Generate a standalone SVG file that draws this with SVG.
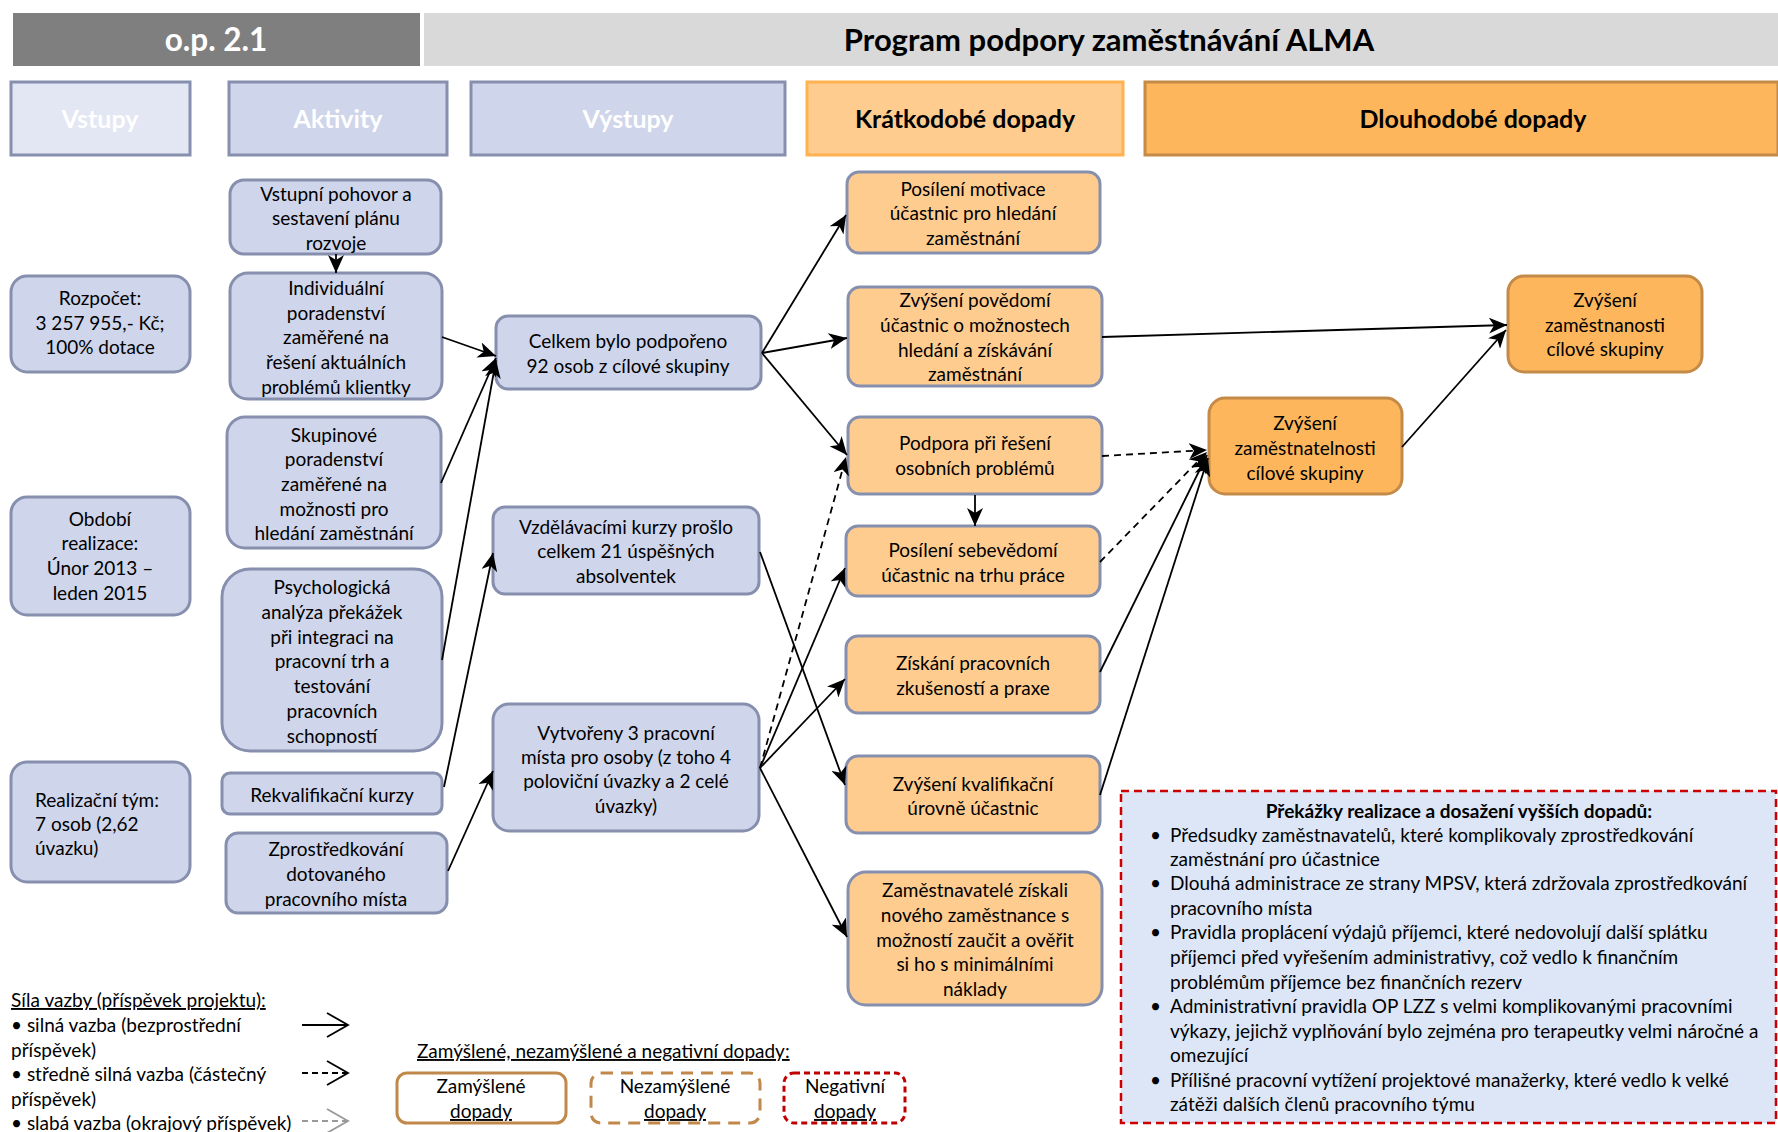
<svg xmlns="http://www.w3.org/2000/svg" width="1778" height="1132" viewBox="0 0 1778 1132">
<style>
text{font-family:Lato,"Liberation Sans",sans-serif;font-size:19px;fill:#000}
.c{text-anchor:middle}
.hb{font-weight:bold;font-size:25px;text-anchor:middle}
.wh{fill:#fff}
.b rect{fill:#CFD5EA;stroke:#8690AE;stroke-width:3}
.s rect{fill:#FFCC8F;stroke:#8690AE;stroke-width:3}
.l rect{fill:#FDB65B;stroke:#C48A48;stroke-width:3}
.cn line{stroke:#000;stroke-width:1.8;marker-end:url(#ah)}
.cn line.d{stroke-dasharray:7 5}
.u{text-decoration:underline}
</style>
<defs>
<marker id="ah" markerUnits="userSpaceOnUse" markerWidth="20" markerHeight="16" refX="18" refY="8" orient="auto"><path d="M0,0 L18,8 L0,16 L5,8 Z" fill="#000"/></marker>
</defs>
<rect width="1778" height="1132" fill="#fff"/>
<g id="header">
<rect x="13" y="13" width="407" height="53" fill="#7F7F7F"/>
<text x="216" y="51" class="hb wh" style="font-size:31.5px">o.p. 2.1</text>
<rect x="424" y="13" width="1354" height="53" fill="#D9D9D9"/>
<text x="1109" y="51" class="hb" style="font-size:31px">Program podpory zaměstnávání ALMA</text>
</g>
<g id="columns">
<rect x="11" y="82" width="179" height="73" fill="#E3E6F3" stroke="#8690AE" stroke-width="3"/>
<text x="100" y="128" class="hb wh">Vstupy</text>
<rect x="229" y="82" width="218" height="73" fill="#CFD5EA" stroke="#8690AE" stroke-width="3"/>
<text x="338" y="128" class="hb wh">Aktivity</text>
<rect x="471" y="82" width="314" height="73" fill="#CFD5EA" stroke="#8690AE" stroke-width="3"/>
<text x="628" y="128" class="hb wh">Výstupy</text>
<rect x="807" y="82" width="316" height="73" fill="#FFCC8F" stroke="#FFB24F" stroke-width="3"/>
<text x="965" y="128" class="hb">Krátkodobé dopady</text>
<rect x="1145" y="82" width="633" height="73" fill="#FDB65B" stroke="#C48A48" stroke-width="3"/>
<text x="1473" y="128" class="hb">Dlouhodobé dopady</text>
</g>
<g id="i1" class="b"><rect x="11" y="276" width="179" height="96" rx="16"/><text class="c"><tspan x="100" y="305">Rozpočet:</tspan><tspan x="100" y="330">3 257 955,- Kč;</tspan><tspan x="100" y="354">100% dotace</tspan></text></g>
<g id="i2" class="b"><rect x="11" y="497" width="179" height="118" rx="16"/><text class="c"><tspan x="100" y="526">Období</tspan><tspan x="100" y="550">realizace:</tspan><tspan x="100" y="575">Únor 2013 –</tspan><tspan x="100" y="600">leden 2015</tspan></text></g>
<g id="i3" class="b"><rect x="11" y="762" width="179" height="120" rx="16"/><text><tspan x="35" y="807">Realizační tým:</tspan><tspan x="35" y="831">7 osob (2,62</tspan><tspan x="35" y="855">úvazku)</tspan></text></g>
<g id="a1" class="b"><rect x="230" y="180" width="211" height="74" rx="14"/><text class="c"><tspan x="336" y="201">Vstupní pohovor a</tspan><tspan x="336" y="225">sestavení plánu</tspan><tspan x="336" y="250">rozvoje</tspan></text></g>
<g id="a2" class="b"><rect x="230" y="273" width="212" height="126" rx="18"/><text class="c"><tspan x="336" y="295">Individuální</tspan><tspan x="336" y="320">poradenství</tspan><tspan x="336" y="344">zaměřené na</tspan><tspan x="336" y="369">řešení aktuálních</tspan><tspan x="336" y="394">problémů klientky</tspan></text></g>
<g id="a3" class="b"><rect x="227" y="417" width="214" height="131" rx="18"/><text class="c"><tspan x="334" y="442">Skupinové</tspan><tspan x="334" y="466">poradenství</tspan><tspan x="334" y="491">zaměřené na</tspan><tspan x="334" y="516">možnosti pro</tspan><tspan x="334" y="540">hledání zaměstnání</tspan></text></g>
<g id="a4" class="b"><rect x="222" y="569" width="220" height="182" rx="28"/><text class="c"><tspan x="332" y="594">Psychologická</tspan><tspan x="332" y="619">analýza překážek</tspan><tspan x="332" y="644">při integraci na</tspan><tspan x="332" y="668">pracovní trh a</tspan><tspan x="332" y="693">testování</tspan><tspan x="332" y="718">pracovních</tspan><tspan x="332" y="743">schopností</tspan></text></g>
<g id="a5" class="b"><rect x="222" y="773" width="220" height="41" rx="8"/><text class="c" x="332" y="802">Rekvalifikační kurzy</text></g>
<g id="a6" class="b"><rect x="226" y="833" width="221" height="80" rx="12"/><text class="c"><tspan x="336" y="856">Zprostředkování</tspan><tspan x="336" y="881">dotovaného</tspan><tspan x="336" y="906">pracovního místa</tspan></text></g>
<g id="o1" class="b"><rect x="496" y="316" width="265" height="73" rx="12"/><text class="c"><tspan x="628" y="348">Celkem bylo podpořeno</tspan><tspan x="628" y="373">92 osob z cílové skupiny</tspan></text></g>
<g id="o2" class="b"><rect x="493" y="507" width="266" height="87" rx="12"/><text class="c"><tspan x="626" y="534">Vzdělávacími kurzy prošlo</tspan><tspan x="626" y="558">celkem 21 úspěšných</tspan><tspan x="626" y="583">absolventek</tspan></text></g>
<g id="o3" class="b"><rect x="493" y="704" width="266" height="127" rx="16"/><text class="c"><tspan x="626" y="740">Vytvořeny 3 pracovní</tspan><tspan x="626" y="764">místa pro osoby (z toho 4</tspan><tspan x="626" y="788">poloviční úvazky a 2 celé</tspan><tspan x="626" y="813">úvazky)</tspan></text></g>
<g id="s1" class="s"><rect x="847" y="172" width="253" height="81" rx="12"/><text class="c"><tspan x="973" y="196">Posílení motivace</tspan><tspan x="973" y="220">účastnic pro hledání</tspan><tspan x="973" y="245">zaměstnání</tspan></text></g>
<g id="s2" class="s"><rect x="848" y="287" width="254" height="99" rx="12"/><text class="c"><tspan x="975" y="307">Zvýšení povědomí</tspan><tspan x="975" y="332">účastnic o možnostech</tspan><tspan x="975" y="357">hledání a získávání</tspan><tspan x="975" y="381">zaměstnání</tspan></text></g>
<g id="s3" class="s"><rect x="848" y="417" width="254" height="77" rx="12"/><text class="c"><tspan x="975" y="450">Podpora při řešení</tspan><tspan x="975" y="475">osobních problémů</tspan></text></g>
<g id="s4" class="s"><rect x="846" y="526" width="254" height="70" rx="12"/><text class="c"><tspan x="973" y="557">Posílení sebevědomí</tspan><tspan x="973" y="582">účastnic na trhu práce</tspan></text></g>
<g id="s5" class="s"><rect x="846" y="636" width="254" height="77" rx="12"/><text class="c"><tspan x="973" y="670">Získání pracovních</tspan><tspan x="973" y="695">zkušeností a praxe</tspan></text></g>
<g id="s6" class="s"><rect x="846" y="756" width="254" height="77" rx="12"/><text class="c"><tspan x="973" y="791">Zvýšení kvalifikační</tspan><tspan x="973" y="815">úrovně účastnic</tspan></text></g>
<g id="s7" class="s"><rect x="848" y="872" width="254" height="133" rx="18"/><text class="c"><tspan x="975" y="897">Zaměstnavatelé získali</tspan><tspan x="975" y="922">nového zaměstnance s</tspan><tspan x="975" y="947">možností zaučit a ověřit</tspan><tspan x="975" y="971">si ho s minimálními</tspan><tspan x="975" y="996">náklady</tspan></text></g>
<g id="l1" class="l"><rect x="1209" y="398" width="193" height="96" rx="16"/><text class="c"><tspan x="1305" y="430">Zvýšení</tspan><tspan x="1305" y="455">zaměstnatelnosti</tspan><tspan x="1305" y="480">cílové skupiny</tspan></text></g>
<g id="l2" class="l"><rect x="1508" y="276" width="194" height="96" rx="16"/><text class="c"><tspan x="1605" y="307">Zvýšení</tspan><tspan x="1605" y="332">zaměstnanosti</tspan><tspan x="1605" y="356">cílové skupiny</tspan></text></g>
<g id="connectors" class="cn">
<line x1="336" y1="254" x2="336" y2="273"/>
<line x1="442" y1="337" x2="496" y2="356"/>
<line x1="441" y1="483" x2="496" y2="358"/>
<line x1="442" y1="660" x2="496" y2="360"/>
<line x1="444" y1="787" x2="493" y2="553"/>
<line x1="448" y1="871" x2="493" y2="771"/>
<line x1="762" y1="353" x2="846" y2="215"/>
<line x1="762" y1="353" x2="847" y2="338"/>
<line x1="762" y1="353" x2="847" y2="455"/>
<line x1="760" y1="552" x2="845" y2="785"/>
<line class="d" x1="760" y1="768" x2="846" y2="457"/>
<line x1="760" y1="768" x2="845" y2="568"/>
<line x1="760" y1="768" x2="845" y2="679"/>
<line x1="760" y1="768" x2="847" y2="937"/>
<line x1="975" y1="495" x2="975" y2="526"/>
<line x1="1102" y1="337" x2="1507" y2="325"/>
<line class="d" x1="1102" y1="456" x2="1207" y2="450"/>
<line class="d" x1="1100" y1="562" x2="1207" y2="452"/>
<line x1="1100" y1="672" x2="1207" y2="455"/>
<line x1="1100" y1="795" x2="1208" y2="458"/>
<line x1="1402" y1="447" x2="1506" y2="330"/>
</g>
<g id="obstacles">
<rect x="1121" y="791" width="655" height="332" fill="#DCE6F7" stroke="#CC0000" stroke-width="2.5" stroke-dasharray="8 5"/>
<text x="1459" y="818" class="c" style="font-weight:bold">Překážky realizace a dosažení vyšších dopadů:</text>
<text><tspan x="1150" y="842">•</tspan><tspan x="1150" y="890">•</tspan><tspan x="1150" y="939">•</tspan><tspan x="1150" y="1013">•</tspan><tspan x="1150" y="1087">•</tspan></text>
<text><tspan x="1170" y="842">Předsudky zaměstnavatelů, které komplikovaly zprostředkování</tspan><tspan x="1170" y="866">zaměstnání pro účastnice</tspan><tspan x="1170" y="890">Dlouhá administrace ze strany MPSV, která zdržovala zprostředkování</tspan><tspan x="1170" y="915">pracovního místa</tspan><tspan x="1170" y="939">Pravidla proplácení výdajů příjemci, které nedovolují další splátku</tspan><tspan x="1170" y="964">příjemci před vyřešením administrativy, což vedlo k finančním</tspan><tspan x="1170" y="989">problémům příjemce bez finančních rezerv</tspan><tspan x="1170" y="1013">Administrativní pravidla OP LZZ s velmi komplikovanými pracovními</tspan><tspan x="1170" y="1038">výkazy, jejichž vyplňování bylo zejména pro terapeutky velmi náročné a</tspan><tspan x="1170" y="1062">omezující</tspan><tspan x="1170" y="1087">Přílišné pracovní vytížení projektové manažerky, které vedlo k velké</tspan><tspan x="1170" y="1111">zátěži dalších členů pracovního týmu</tspan></text>
</g>
<g id="legend">
<text x="11" y="1007" class="u">Síla vazby (příspěvek projektu):</text>
<text><tspan x="11" y="1032">• silná vazba (bezprostřední</tspan><tspan x="11" y="1057">příspěvek)</tspan><tspan x="11" y="1081">• středně silná vazba (částečný</tspan><tspan x="11" y="1106">příspěvek)</tspan><tspan x="11" y="1130">• slabá vazba (okrajový příspěvek)</tspan></text>
<g fill="none" stroke-width="1.8">
<line x1="302" y1="1025" x2="348" y2="1025" stroke="#000"/>
<polyline points="327,1013 348,1025 327,1037" stroke="#000"/>
<line x1="302" y1="1073" x2="348" y2="1073" stroke="#000" stroke-dasharray="6 4"/>
<polyline points="327,1061 348,1073 327,1085" stroke="#000"/>
<line x1="302" y1="1121" x2="348" y2="1121" stroke="#999" stroke-dasharray="6 4"/>
<polyline points="327,1109 348,1121 327,1133" stroke="#999"/>
</g>
<text x="417" y="1058" class="u">Zamýšlené, nezamýšlené a negativní dopady:</text>
<rect x="397" y="1073" width="169" height="50" rx="10" fill="#fff" stroke="#C0884A" stroke-width="3"/>
<text class="c"><tspan x="481" y="1093">Zamýšlené</tspan><tspan x="481" y="1118" class="u">dopady</tspan></text>
<rect x="591" y="1073" width="169" height="50" rx="10" fill="#fff" stroke="#C0884A" stroke-width="3" stroke-dasharray="12 8"/>
<text class="c"><tspan x="675" y="1093">Nezamýšlené</tspan><tspan x="675" y="1118" class="u">dopady</tspan></text>
<rect x="784" y="1073" width="121" height="50" rx="10" fill="#fff" stroke="#C00000" stroke-width="3" stroke-dasharray="6 4"/>
<text class="c"><tspan x="845" y="1093">Negativní</tspan><tspan x="845" y="1118" class="u">dopady</tspan></text>
</g>
</svg>
